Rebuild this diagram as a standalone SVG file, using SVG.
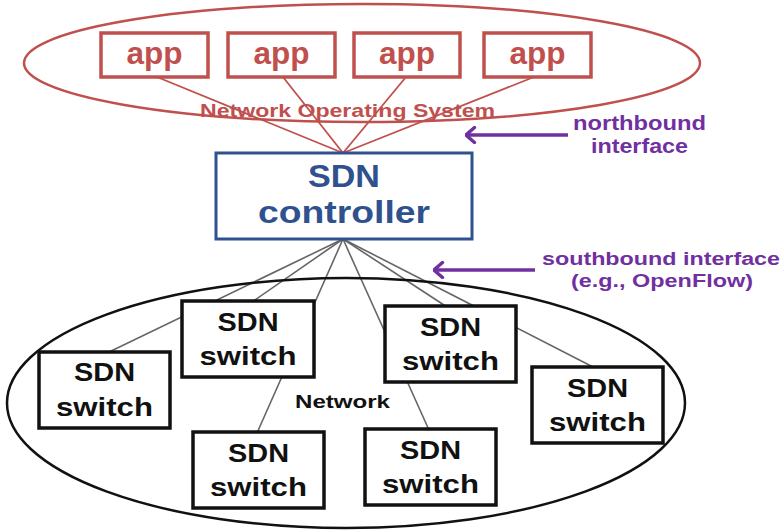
<svg xmlns="http://www.w3.org/2000/svg" width="783" height="530" viewBox="0 0 783 530">
  <style>
    .bold { font-family: "Liberation Sans", Arial, sans-serif; font-weight: bold; }
    .app-box { fill: #ffffff; stroke: #C0504D; stroke-width: 3.5; }
    .app-text { fill: #C0504D; font-size: 32px; }
    .nos { fill: none; stroke: #C0504D; stroke-width: 2.5; }
    .red-link { stroke: #C0504D; stroke-width: 1.8; fill: none; }
    .gray-link { stroke: #666666; stroke-width: 1.6; fill: none; }
    .ctrl-box { fill: #ffffff; stroke: #2F528F; stroke-width: 3; }
    .ctrl-text { fill: #2F528F; font-size: 31px; }
    .sw-box { fill: #ffffff; stroke: #111111; stroke-width: 3.5; }
    .sw-text { fill: #111111; font-size: 26px; }
    .net { fill: none; stroke: #111111; stroke-width: 2.5; }
    .purple { fill: #7030A0; }
    .arrow { stroke: #7030A0; stroke-width: 3.5; fill: none; }
  </style>
  <defs>
    <!-- open chevron head; +x points along the line toward its end -->
    <marker id="chevron" viewBox="0 0 12 18" refX="10.5" refY="9" markerWidth="12" markerHeight="18" markerUnits="userSpaceOnUse" orient="auto">
      <path d="M2,1.5 L10.5,9 L2,16.5" fill="none" stroke="#7030A0" stroke-width="3.4" stroke-linecap="round" stroke-linejoin="round"/>
    </marker>
  </defs>

  <rect width="783" height="530" fill="#ffffff"/>

  <!-- Network Operating System ellipse -->
  <ellipse class="nos" cx="362" cy="63" rx="338" ry="59"/>

  <!-- connectors -->
  <g id="connectors">
    <!-- apps to controller (northbound) -->
    <line class="red-link" x1="157" y1="77" x2="343" y2="153"/>
    <line class="red-link" x1="283" y1="77" x2="343" y2="153"/>
    <line class="red-link" x1="406" y1="77" x2="343" y2="153"/>
    <line class="red-link" x1="534" y1="77" x2="343" y2="153"/>
    <!-- controller to switches (southbound) -->
    <line class="gray-link" x1="343" y1="239" x2="107" y2="353"/>
    <line class="gray-link" x1="343" y1="239" x2="252" y2="302"/>
    <line class="gray-link" x1="343" y1="239" x2="257" y2="433"/>
    <line class="gray-link" x1="343" y1="239" x2="429" y2="430"/>
    <line class="gray-link" x1="343" y1="239" x2="447" y2="307"/>
    <line class="gray-link" x1="343" y1="239" x2="595" y2="368"/>
    <!-- interface pointers -->
    <line class="arrow" x1="568" y1="135" x2="466" y2="135" marker-end="url(#chevron)"/>
    <line class="arrow" x1="535" y1="270" x2="434" y2="270" marker-end="url(#chevron)"/>
  </g>

  <text class="bold" x="200" y="117" font-size="19" fill="#C0504D" textLength="295" lengthAdjust="spacingAndGlyphs">Network Operating System</text>

  <!-- apps -->
  <g id="app1">
    <rect class="app-box" x="101" y="33" width="107" height="44"/>
    <text class="bold app-text" x="154.5" y="64" text-anchor="middle" textLength="56" lengthAdjust="spacingAndGlyphs">app</text>
  </g>
  <g id="app2">
    <rect class="app-box" x="228" y="33" width="107" height="44"/>
    <text class="bold app-text" x="281.5" y="64" text-anchor="middle" textLength="56" lengthAdjust="spacingAndGlyphs">app</text>
  </g>
  <g id="app3">
    <rect class="app-box" x="354" y="33" width="106" height="44"/>
    <text class="bold app-text" x="407" y="64" text-anchor="middle" textLength="56" lengthAdjust="spacingAndGlyphs">app</text>
  </g>
  <g id="app4">
    <rect class="app-box" x="484" y="33" width="107" height="44"/>
    <text class="bold app-text" x="537.5" y="64" text-anchor="middle" textLength="56" lengthAdjust="spacingAndGlyphs">app</text>
  </g>

  <!-- controller -->
  <g id="controller">
    <rect class="ctrl-box" x="216" y="153" width="256" height="86"/>
    <text class="bold ctrl-text" x="344" y="187" text-anchor="middle" textLength="72" lengthAdjust="spacingAndGlyphs">SDN</text>
    <text class="bold ctrl-text" x="344" y="223" text-anchor="middle" textLength="172" lengthAdjust="spacingAndGlyphs">controller</text>
  </g>

  <!-- interface labels -->
  <g id="northbound">
    <text class="bold purple" x="573" y="130" font-size="20" textLength="133" lengthAdjust="spacingAndGlyphs">northbound</text>
    <text class="bold purple" x="591" y="153" font-size="20" textLength="97" lengthAdjust="spacingAndGlyphs">interface</text>
  </g>
  <g id="southbound">
    <text class="bold purple" x="542" y="265" font-size="18" textLength="238" lengthAdjust="spacingAndGlyphs">southbound interface</text>
    <text class="bold purple" x="571" y="287" font-size="18" textLength="182" lengthAdjust="spacingAndGlyphs">(e.g., OpenFlow)</text>
  </g>

  <!-- network -->
  <ellipse class="net" cx="346" cy="403" rx="339" ry="125"/>
  <text class="bold" x="295" y="408" font-size="18" fill="#111111" textLength="95" lengthAdjust="spacingAndGlyphs">Network</text>

  <g id="switch1">
    <rect class="sw-box" x="39" y="352" width="131" height="76"/>
    <text class="bold sw-text" x="104.5" y="381" text-anchor="middle" textLength="61" lengthAdjust="spacingAndGlyphs">SDN</text>
    <text class="bold sw-text" x="104.5" y="416" text-anchor="middle" textLength="97" lengthAdjust="spacingAndGlyphs">switch</text>
  </g>
  <g id="switch2">
    <rect class="sw-box" x="182" y="301" width="132" height="76"/>
    <text class="bold sw-text" x="248" y="331" text-anchor="middle" textLength="61" lengthAdjust="spacingAndGlyphs">SDN</text>
    <text class="bold sw-text" x="248" y="365" text-anchor="middle" textLength="97" lengthAdjust="spacingAndGlyphs">switch</text>
  </g>
  <g id="switch3">
    <rect class="sw-box" x="385" y="306" width="131" height="76"/>
    <text class="bold sw-text" x="450.5" y="336" text-anchor="middle" textLength="61" lengthAdjust="spacingAndGlyphs">SDN</text>
    <text class="bold sw-text" x="450.5" y="370" text-anchor="middle" textLength="97" lengthAdjust="spacingAndGlyphs">switch</text>
  </g>
  <g id="switch4">
    <rect class="sw-box" x="532" y="367" width="131" height="76"/>
    <text class="bold sw-text" x="597.5" y="397" text-anchor="middle" textLength="61" lengthAdjust="spacingAndGlyphs">SDN</text>
    <text class="bold sw-text" x="597.5" y="431" text-anchor="middle" textLength="97" lengthAdjust="spacingAndGlyphs">switch</text>
  </g>
  <g id="switch5">
    <rect class="sw-box" x="193" y="432" width="131" height="76"/>
    <text class="bold sw-text" x="258.5" y="462" text-anchor="middle" textLength="61" lengthAdjust="spacingAndGlyphs">SDN</text>
    <text class="bold sw-text" x="258.5" y="496" text-anchor="middle" textLength="97" lengthAdjust="spacingAndGlyphs">switch</text>
  </g>
  <g id="switch6">
    <rect class="sw-box" x="365" y="429" width="131" height="76"/>
    <text class="bold sw-text" x="430.5" y="459" text-anchor="middle" textLength="61" lengthAdjust="spacingAndGlyphs">SDN</text>
    <text class="bold sw-text" x="430.5" y="493" text-anchor="middle" textLength="97" lengthAdjust="spacingAndGlyphs">switch</text>
  </g>
</svg>
